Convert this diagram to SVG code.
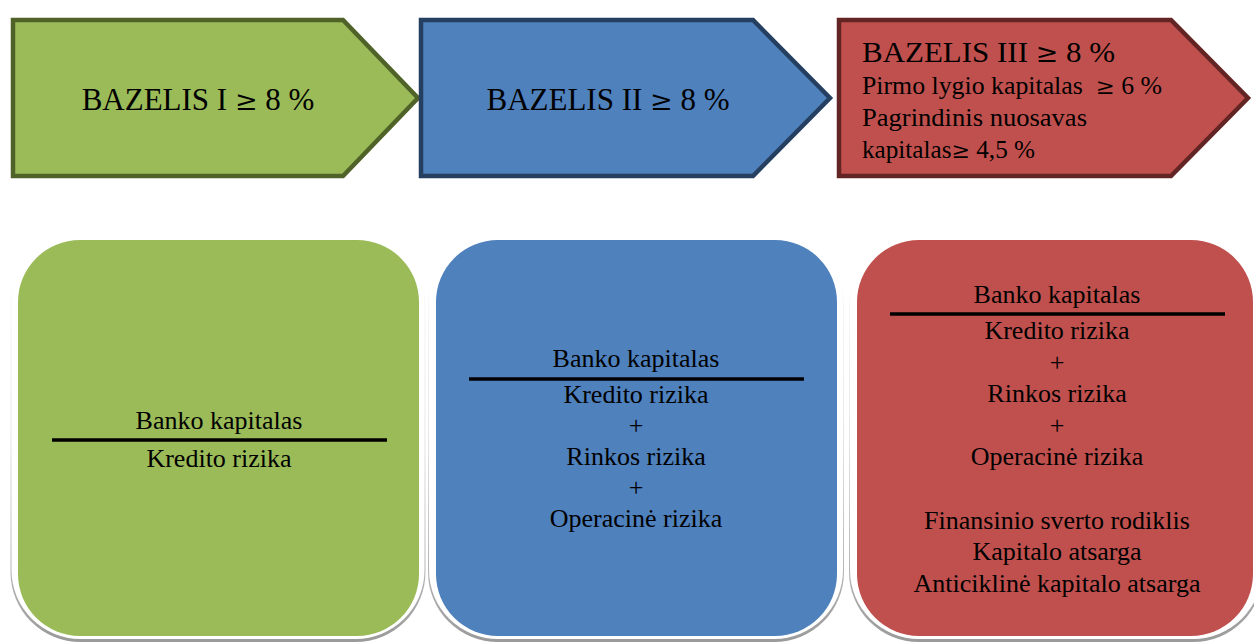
<svg xmlns="http://www.w3.org/2000/svg" width="1254" height="642" viewBox="0 0 1254 642">
<style>
  .t { font-family: "Liberation Serif", "Times New Roman", serif; fill: #000; }
  .ge { font-family: "DejaVu Serif", "Liberation Serif", serif; }
  .big { font-size: 31px; }
  .sm { font-size: 25px; }
  .b { font-size: 26px; text-anchor: middle; }
  .bar { stroke: #000; stroke-width: 3.5; }
  .frame { fill: #fff; }
  .shadow { fill: url(#sh); }
</style>
<defs>
  <linearGradient id="sh" x1="0" y1="0" x2="0" y2="1">
    <stop offset="0" stop-color="#ffffff"/>
    <stop offset="0.5" stop-color="#e6e6e6"/>
    <stop offset="1" stop-color="#9a9a9a"/>
  </linearGradient>
</defs>

<g id="basel1">
  <polygon points="13,20 343,20 418,98 343,176 13,176" fill="#9BBB59" stroke="#4F6228" stroke-width="4.5"/>
  <text class="t big" x="198" y="110" text-anchor="middle">BAZELIS I <tspan class="ge" font-size="27">≥</tspan> 8 %</text>
</g>
<g id="basel2">
  <polygon points="421,20 753,20 830,98 753,176 421,176" fill="#4F81BD" stroke="#243F60" stroke-width="4.5"/>
  <text class="t big" x="608" y="110" text-anchor="middle">BAZELIS II <tspan class="ge" font-size="27">≥</tspan> 8 %</text>
</g>
<g id="basel3">
  <polygon points="839,20 1171,20 1248,98 1171,176 839,176" fill="#C0504D" stroke="#632523" stroke-width="4.5"/>
  <text class="t" x="862" y="62" font-size="30" textLength="253" lengthAdjust="spacingAndGlyphs">BAZELIS III <tspan class="ge" font-size="26">≥</tspan> 8 %</text>
  <text class="t sm" x="862" y="94" textLength="300" lengthAdjust="spacingAndGlyphs" xml:space="preserve">Pirmo lygio kapitalas  <tspan class="ge" font-size="22">≥</tspan> 6 %</text>
  <text class="t sm" x="862" y="126" textLength="225" lengthAdjust="spacingAndGlyphs">Pagrindinis nuosavas</text>
  <text class="t sm" x="862" y="158" textLength="173" lengthAdjust="spacingAndGlyphs">kapitalas<tspan class="ge" font-size="22">≥</tspan> 4,5 %</text>
</g>

<g id="box1">
  <rect class="shadow" x="10.5" y="236" width="415" height="406" rx="70"/>
  <rect class="frame" x="11.5" y="233" width="413" height="406" rx="69"/>
  <rect x="18" y="240" width="401" height="396" rx="62" fill="#9BBB59"/>
  <text class="t b" x="219" y="429">Banko kapitalas</text>
  <line class="bar" x1="52" y1="440" x2="387" y2="440"/>
  <text class="t b" x="219" y="467">Kredito rizika</text>
</g>

<g id="box2">
  <rect class="shadow" x="428" y="236" width="416" height="406" rx="70"/>
  <rect class="frame" x="429" y="233" width="414" height="406" rx="69"/>
  <rect x="436" y="240" width="401" height="396" rx="62" fill="#4F81BD"/>
  <text class="t b" x="636" y="367">Banko kapitalas</text>
  <line class="bar" x1="469" y1="379" x2="804" y2="379"/>
  <text class="t b" x="636" y="403">Kredito rizika</text>
  <text class="t b" x="636" y="434">+</text>
  <text class="t b" x="636" y="465">Rinkos rizika</text>
  <text class="t b" x="636" y="496">+</text>
  <text class="t b" x="636" y="527">Operacinė rizika</text>
</g>

<g id="box3">
  <rect class="shadow" x="849" y="236" width="414" height="406" rx="70"/>
  <rect class="frame" x="850" y="233" width="412" height="406" rx="69"/>
  <rect x="857" y="240" width="396" height="396" rx="62" fill="#C0504D"/>
  <text class="t b" x="1057" y="303">Banko kapitalas</text>
  <line class="bar" x1="890" y1="314" x2="1225" y2="314"/>
  <text class="t b" x="1057" y="339">Kredito rizika</text>
  <text class="t b" x="1057" y="370.6">+</text>
  <text class="t b" x="1057" y="402.2">Rinkos rizika</text>
  <text class="t b" x="1057" y="433.8">+</text>
  <text class="t b" x="1057" y="465.4">Operacinė rizika</text>
  <text class="t b" x="1057" y="528.6">Finansinio sverto rodiklis</text>
  <text class="t b" x="1057" y="560.2">Kapitalo atsarga</text>
  <text class="t b" x="1057" y="591.8">Anticiklinė kapitalo atsarga</text>
</g>

<g id="connectors"></g>
</svg>
